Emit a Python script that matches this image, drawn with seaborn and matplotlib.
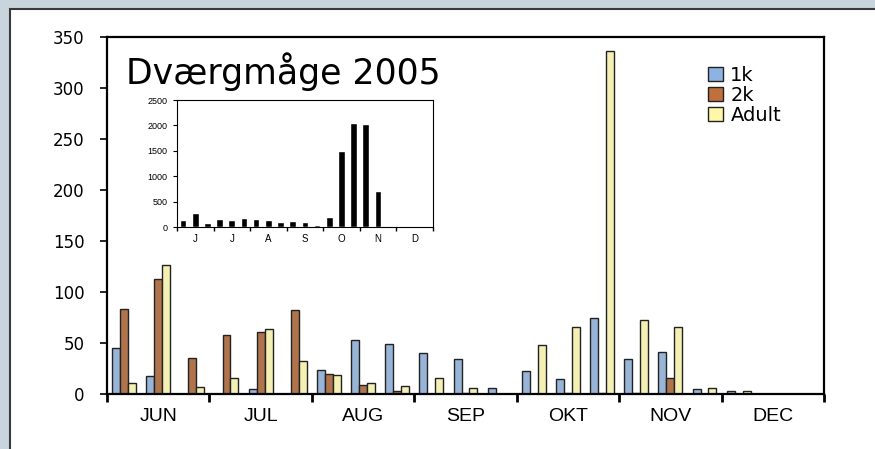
import matplotlib
matplotlib.use("Agg")
import matplotlib.pyplot as plt
import seaborn as sns
import pandas as pd
from matplotlib.patches import Rectangle, Patch

# ---- data ----
months = ["JUN", "JUL", "AUG", "SEP", "OKT", "NOV", "DEC"]
inset_months = ["J", "J", "A", "S", "O", "N", "D"]
periods = list(range(21))  # three periods per month
age_classes = ["1k", "2k", "Adult"]
count_1k = [45, 18, 0, 0, 5, 0, 24, 53, 49, 40, 34, 6, 23, 15, 75, 34, 41, 5, 3, 0, 0]
count_2k = [83, 113, 35, 58, 61, 82, 20, 9, 3, 0, 1, 0, 0, 1, 1, 1, 16, 0, 0, 0, 0]
count_adult = [11, 126, 7, 16, 64, 32, 19, 11, 8, 16, 6, 0, 48, 66, 336, 73, 66, 6, 3, 0, 0]
inset_total = [137, 275, 78, 164, 144, 183, 164, 144, 105, 124, 105, 39, 203,
               1505, 2048, 2029, 707, 33, 0, 0, 0]
main_yticks = [0, 50, 100, 150, 200, 250, 300, 350]
inset_yticks = [0, 500, 1000, 1500, 2000, 2500]
title = "Dværgmåge 2005"

colors = {"1k": "#8db3e2", "2k": "#c0703d", "Adult": "#fff8a8"}

df = pd.DataFrame({
    "period": periods * 3,
    "age": ["1k"] * 21 + ["2k"] * 21 + ["Adult"] * 21,
    "count": count_1k + count_2k + count_adult,
})
df_in = pd.DataFrame({"period": periods, "total": inset_total})

sns.set_style("ticks")
plt.rcParams["font.family"] = ["DejaVu Sans"]
plt.rcParams["text.color"] = "black"
plt.rcParams["xtick.color"] = "black"
plt.rcParams["ytick.color"] = "black"
plt.rcParams["xtick.labelcolor"] = "black"
plt.rcParams["ytick.labelcolor"] = "black"

W, H = 875, 449
fig = plt.figure(figsize=(W / 100, H / 100), dpi=100, facecolor="#c8d5dd")
panel = Rectangle((9.5 / W, -0.2), 1.5, 1 - 9.5 / H + 0.2, transform=fig.transFigure,
                  facecolor="white", edgecolor="#3a3a3a", linewidth=1.5, zorder=-5)
fig.add_artist(panel)

# ---- main axes ----
ax = fig.add_axes([107 / W, 1 - 394 / H, (824 - 107) / W, (394 - 37) / H])
ax.set_facecolor("white")
sns.barplot(data=df, x="period", y="count", hue="age", order=periods,
            hue_order=age_classes, palette=colors, width=0.7, dodge=True,
            edgecolor="#222222", linewidth=1.0, legend=False, ax=ax)
ax.set_xlim(-0.5, 20.5)
ax.set_ylim(0, 350)
ax.set_yticks(main_yticks)
ax.set_yticklabels([str(v) for v in main_yticks], fontsize=12)
ax.set_xticks([-0.5 + 3 * k for k in range(8)])
ax.set_xticklabels([""] * 8)
ax.set_xticks([1 + 3 * k for k in range(7)], minor=True)
ax.set_xticklabels(months, minor=True, fontsize=14, family=["Liberation Sans"])
ax.tick_params(axis="x", which="major", length=6, width=2, direction="out", color="black")
ax.tick_params(axis="x", which="minor", length=0, pad=10)
ax.tick_params(axis="y", length=5, width=1.2, direction="out", pad=11, color="black")
ax.set_xlabel("")
ax.set_ylabel("")
for s in ax.spines.values():
    s.set_visible(True)
    s.set_linewidth(1.6)
    s.set_color("black")

ax.text((126 - 107) / (824 - 107), (394 - 52) / 357, title, transform=ax.transAxes,
        fontsize=25, va="top", ha="left", color="black")

handles = [Patch(facecolor=colors[a], edgecolor="#222222", linewidth=1.0) for a in age_classes]
ax.legend(handles, age_classes, loc="upper left",
          bbox_to_anchor=((708 - 107) / 717, (394 - 66) / 357),
          frameon=False, fontsize=14, handlelength=0.75, handleheight=0.75,
          handletextpad=0.4, labelspacing=0.05, borderpad=0, borderaxespad=0)

# ---- inset ----
axi = fig.add_axes([177 / W, 1 - 227.3 / H, (432.7 - 177) / W, (227.3 - 100) / H])
sns.barplot(data=df_in, x="period", y="total", order=periods, color="black",
            width=0.55, ax=axi)
axi.set_xlim(-0.5, 20.5)
axi.set_ylim(0, 2500)
axi.set_yticks(inset_yticks)
axi.set_yticklabels([str(v) for v in inset_yticks], fontsize=6.5, family=["Liberation Sans"])
axi.set_xticks([-0.5 + 3 * k for k in range(8)])
axi.set_xticklabels([""] * 8)
axi.set_xticks([1 + 3 * k for k in range(7)], minor=True)
axi.set_xticklabels(inset_months, minor=True, fontsize=7, family=["Liberation Sans"])
axi.tick_params(axis="x", which="major", length=3, width=1, direction="out")
axi.tick_params(axis="x", which="minor", length=0, pad=5)
axi.tick_params(axis="y", length=3, width=0.8, direction="out", pad=4)
axi.set_xlabel("")
axi.set_ylabel("")
for s in axi.spines.values():
    s.set_visible(True)
    s.set_linewidth(0.8)
    s.set_color("black")

fig.savefig("out.png", dpi=100, facecolor=fig.get_facecolor())
